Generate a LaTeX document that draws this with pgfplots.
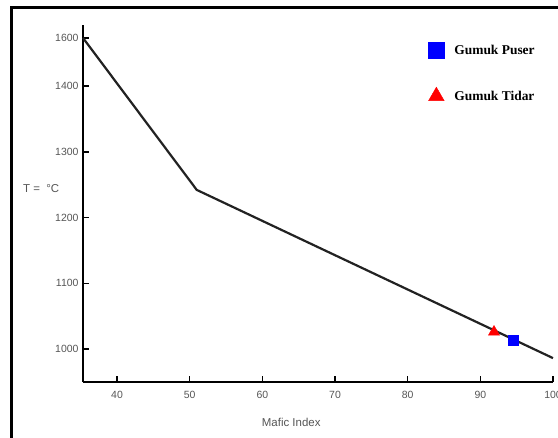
\documentclass[border=0pt]{standalone}
\usepackage{fontspec}
\setmainfont{Liberation Sans}
\newfontfamily\serifb{Liberation Serif}
\usepackage{pgfplots}
\pgfplotsset{compat=1.18}
\definecolor{tickgray}{HTML}{555555}
\definecolor{linecol}{HTML}{222222}
\begin{document}
\begin{tikzpicture}
\path[use as bounding box] (0,0) rectangle (558bp,438bp);
\begin{axis}[
  at={(83bp,56bp)}, anchor=south west,
  scale only axis, width=470bp, height=357bp,
  xmin=35.32, xmax=100,
  ymin=950, ymax=1654,
  y coord trafo/.code={\pgfmathparse{#1<=1400 ? (#1-1000)/100 : 4+(#1-1400)*0.00365}},
  axis lines*=left,
  axis line style={line width=1.6bp, black, -},
  xtick={40,50,60,70,80,90,100},
  ytick={1000,1100,1200,1300,1400,1600},
  yticklabels={1000,1100,1200,1300,1400,1600},
  tick style={line width=1.6bp, black},
  major tick length=6bp,
  tick align=inside,
  tick label style={font=\fontsize{10.5}{12}\selectfont, text=tickgray},
  /pgf/number format/assume math mode=true,
  xticklabel style={yshift=-6bp},
  yticklabel style={xshift=-1bp},
  xlabel={Mafic Index},
  xlabel style={font=\fontsize{11.5}{13}\selectfont, text=tickgray, at={(axis description cs:0.443,0)}, anchor=north, yshift=-33bp},
  ylabel={T =\ \ °C},
  ylabel style={font=\fontsize{11.5}{13}\selectfont, text=tickgray, rotate=-90, at={(axis description cs:-0.089,0.543)}, anchor=center},
  clip=false,
  legend style={draw=none, fill=white, at={(axis description cs:0.728,0.958)}, anchor=north west,
    font=\serifb\bfseries\fontsize{13.5}{15}\selectfont, row sep=29bp, inner sep=2bp},
  legend cell align=left,
  legend image code/.code={\path[draw=none, fill=none] (0bp,0bp) -- (25bp,0bp);\draw[#1, draw=none] plot[only marks] coordinates {(9bp,0bp)};},
]
\addplot[linecol, line width=2.2bp, forget plot] coordinates {(35.32,1600) (50.97,1242) (100,986.3)};
\addplot[only marks, color=blue, mark=square*, mark size=5.2bp, legend image post style={mark size=8bp}] coordinates {(94.54,1013.7)};
\addlegendentry{Gumuk Puser}
\addplot[only marks, color=red, mark=triangle*, mark size=6.5bp, legend image post style={mark size=9bp}] coordinates {(91.88,1026)};
\addlegendentry{Gumuk Tidar}
\end{axis}
\draw[line width=3bp] (11.5bp,0) -- (11.5bp,430.5bp) -- (558bp,430.5bp);
\end{tikzpicture}
\end{document}
